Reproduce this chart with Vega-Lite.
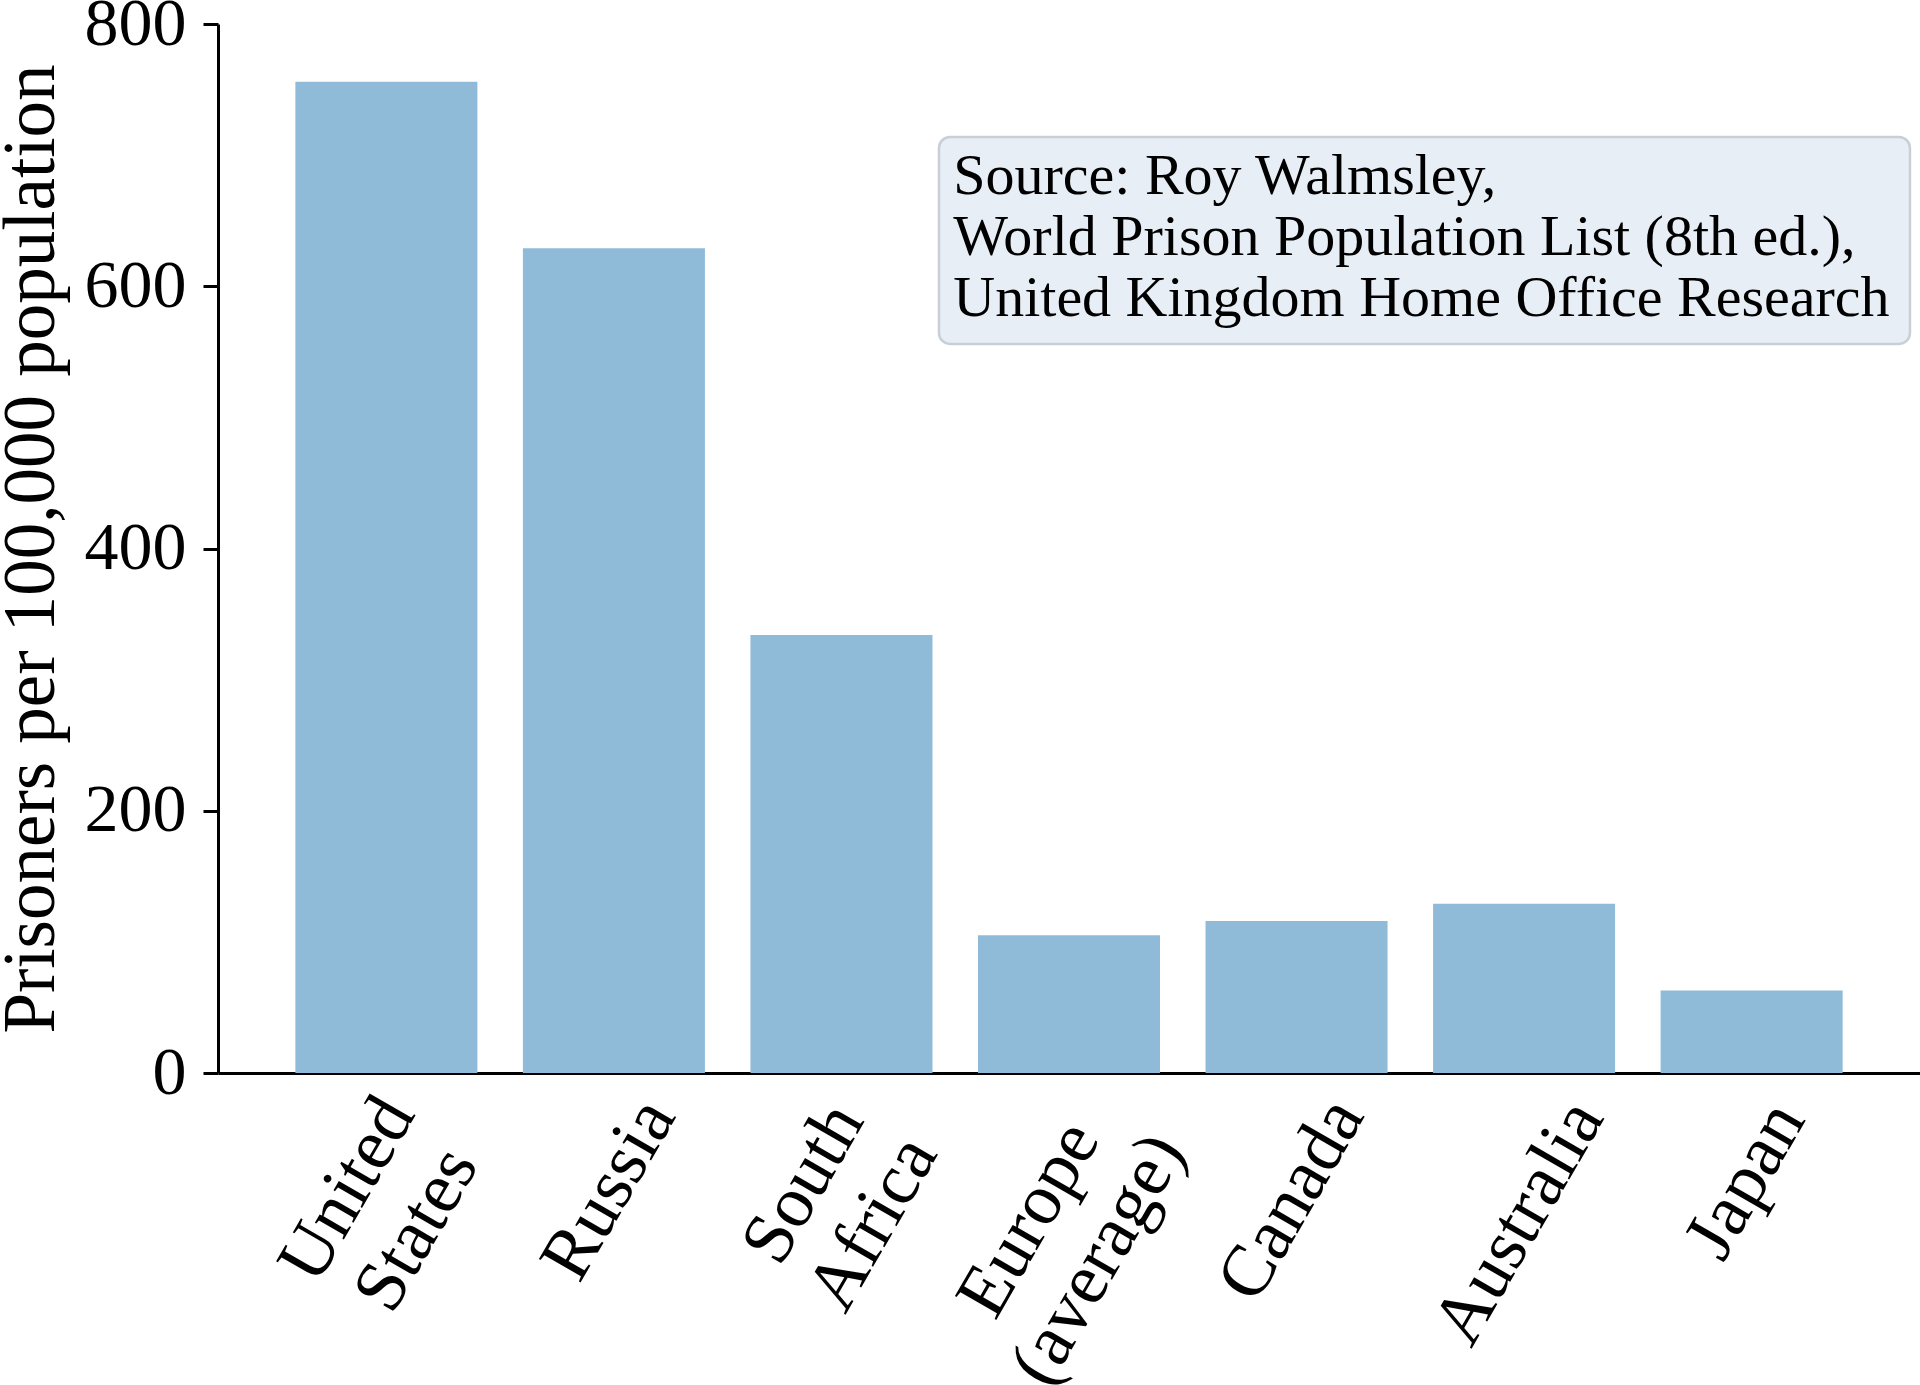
{
  "$schema": "https://vega.github.io/schema/vega-lite/v6.json",
  "autosize": {"type": "none"},
  "padding": {"left": 218, "top": 24, "right": 0, "bottom": 312},
  "width": 1702,
  "height": 1049,
  "background": "white",
  "config": {"view": {"stroke": null}, "font": "Liberation Serif"},
  "layer": [
    {
      "data": {"values": [
        {"country": "United States", "rate": 756},
        {"country": "Russia", "rate": 629},
        {"country": "South Africa", "rate": 334},
        {"country": "Europe (average)", "rate": 105},
        {"country": "Canada", "rate": 116},
        {"country": "Australia", "rate": 129},
        {"country": "Japan", "rate": 63}
      ]},
      "mark": {"type": "bar", "color": "#8fbbd9"},
      "encoding": {
        "x": {
          "field": "country", "type": "nominal", "sort": null,
          "scale": {"paddingInner": 0.2, "paddingOuter": 0.34},
          "axis": {
            "title": null,
            "domainColor": "black", "domainWidth": 3,
            "ticks": false,
            "labelAngle": -60, "labelAlign": "center", "labelBaseline": "middle",
            "labelFont": "Liberation Serif", "labelFontSize": 73, "labelColor": "black",
            "labelLineHeight": 80,
            "labelLimit": 0, "labelOverlap": false, "labelBound": false, "labelFlush": false,
            "labelExpr": "datum.value == 'United States' ? ['United', 'States'] : datum.value == 'South Africa' ? ['South', 'Africa'] : datum.value == 'Europe (average)' ? ['Europe', '(average)'] : datum.label",
            "labelOffset": {
              "condition": [
                {"test": "datum.value == 'United States'", "value": -39},
                {"test": "datum.value == 'South Africa'", "value": -38},
                {"test": "datum.value == 'Europe (average)'", "value": -40},
                {"test": "datum.value == 'Japan'", "value": -6}
              ],
              "value": -5
            },
            "labelPadding": {
              "condition": [
                {"test": "datum.value == 'United States'", "value": 116},
                {"test": "datum.value == 'Russia'", "value": 116},
                {"test": "datum.value == 'South Africa'", "value": 110},
                {"test": "datum.value == 'Europe (average)'", "value": 146},
                {"test": "datum.value == 'Canada'", "value": 126},
                {"test": "datum.value == 'Australia'", "value": 149}
              ],
              "value": 107
            }
          }
        },
        "y": {
          "field": "rate", "type": "quantitative",
          "scale": {"domain": [0, 800], "nice": false, "zero": true},
          "axis": {
            "title": "Prisoners per 100,000 population",
            "titleFont": "Liberation Serif", "titleFontSize": 73, "titleFontWeight": "normal", "titleColor": "black",
            "titlePadding": 16,
            "values": [0, 200, 400, 600, 800],
            "grid": false,
            "domainColor": "black", "domainWidth": 3,
            "tickColor": "black", "tickWidth": 3, "tickSize": 15,
            "labelFont": "Liberation Serif", "labelFontSize": 68, "labelColor": "black",
            "labelPadding": 17, "labelFlush": false, "labelOverlap": false
          }
        }
      }
    },
    {
      "data": {"values": [{"note": "Source: Roy Walmsley,\nWorld Prison Population List (8th ed.),\nUnited Kingdom Home Office Research"}]},
      "layer": [
        {
          "mark": {"type": "rect", "fill": "#e8eef5", "stroke": "#c8cfd7", "strokeWidth": 2.5, "cornerRadius": 11},
          "encoding": {
            "x": {"datum": 0.4236, "type": "quantitative", "scale": {"domain": [0, 1]}, "axis": null},
            "x2": {"datum": 0.9941},
            "y": {"datum": 713.8, "type": "quantitative", "scale": {"domain": [0, 800], "nice": false}, "axis": null},
            "y2": {"datum": 556}
          }
        },
        {
          "mark": {"type": "text", "align": "left", "baseline": "alphabetic", "font": "Liberation Serif", "fontSize": 58, "lineHeight": 61, "lineBreak": "\n", "color": "black"},
          "encoding": {
            "x": {"datum": 0.432, "type": "quantitative", "scale": {"domain": [0, 1]}, "axis": null},
            "y": {"datum": 670.3, "type": "quantitative", "scale": {"domain": [0, 800], "nice": false}, "axis": null},
            "text": {"field": "note"}
          }
        }
      ]
    }
  ],
  "resolve": {"scale": {"x": "independent", "y": "independent"}, "axis": {"x": "independent", "y": "independent"}}
}
